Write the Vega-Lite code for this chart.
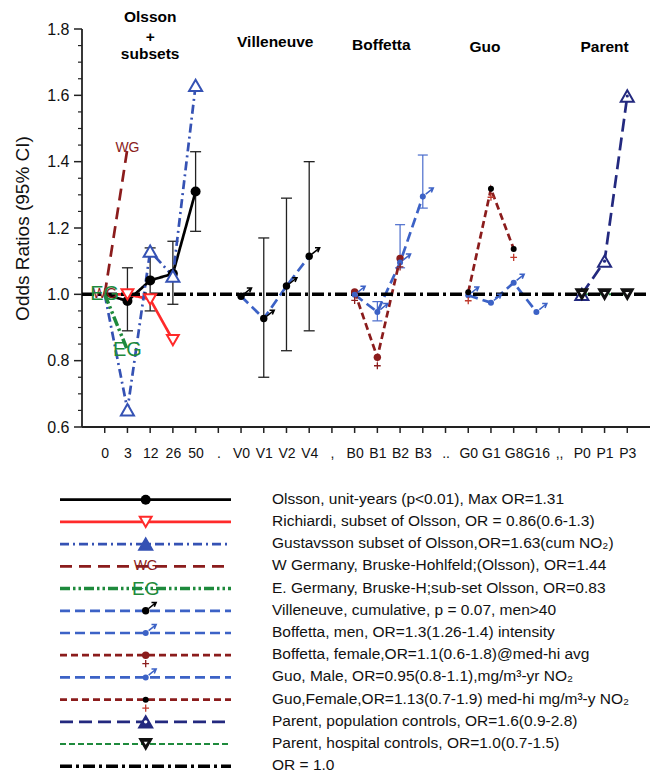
{
  "$schema": "https://vega.github.io/schema/vega-lite/v6.json",
  "padding": {"left": 13, "top": 10, "right": 2, "bottom": 0},
  "bounds": "flush",
  "spacing": 72.7,
  "config": {
    "font": "Liberation Sans",
    "view": {"stroke": null},
    "axis": {"domainColor": "#222222", "domainWidth": 1.8, "tickColor": "#222222", "tickWidth": 1.5, "labelColor": "#111111", "titleColor": "#111111", "grid": false}
  },
  "datasets": {
    "pts": [
      {"s": "Olsson", "x": "0", "y": 1.0}, {"s": "Olsson", "x": "3", "y": 0.98}, {"s": "Olsson", "x": "12", "y": 1.042}, {"s": "Olsson", "x": "26", "y": 1.062}, {"s": "Olsson", "x": "50", "y": 1.31},
      {"s": "Richiardi", "x": "0", "y": 1.0}, {"s": "Richiardi", "x": "3", "y": 1.0}, {"s": "Richiardi", "x": "12", "y": 0.985}, {"s": "Richiardi", "x": "26", "y": 0.862},
      {"s": "Gustavsson", "x": "0", "y": 1.0}, {"s": "Gustavsson", "x": "3", "y": 0.652}, {"s": "Gustavsson", "x": "12", "y": 1.13}, {"s": "Gustavsson", "x": "26", "y": 1.055}, {"s": "Gustavsson", "x": "50", "y": 1.63},
      {"s": "WG", "x": "0", "y": 1.0}, {"s": "WG", "x": "3", "y": 1.44},
      {"s": "EG", "x": "0", "y": 1.0}, {"s": "EG", "x": "3", "y": 0.832},
      {"s": "Villeneuve", "x": "V0", "y": 0.994}, {"s": "Villeneuve", "x": "V1", "y": 0.927}, {"s": "Villeneuve", "x": "V2", "y": 1.025}, {"s": "Villeneuve", "x": "V4", "y": 1.115},
      {"s": "BoffM", "x": "B0", "y": 0.999}, {"s": "BoffM", "x": "B1", "y": 0.947}, {"s": "BoffM", "x": "B2", "y": 1.096}, {"s": "BoffM", "x": "B3", "y": 1.295},
      {"s": "BoffF", "x": "B0", "y": 1.007}, {"s": "BoffF", "x": "B1", "y": 0.81}, {"s": "BoffF", "x": "B2", "y": 1.108},
      {"s": "GuoM", "x": "G0", "y": 0.997}, {"s": "GuoM", "x": "G1", "y": 0.975}, {"s": "GuoM", "x": "G8", "y": 1.035}, {"s": "GuoM", "x": "G16", "y": 0.947},
      {"s": "GuoF", "x": "G0", "y": 1.006}, {"s": "GuoF", "x": "G1", "y": 1.318}, {"s": "GuoF", "x": "G8", "y": 1.137},
      {"s": "ParentPop", "x": "P0", "y": 1.0}, {"s": "ParentPop", "x": "P1", "y": 1.1}, {"s": "ParentPop", "x": "P3", "y": 1.598},
      {"s": "ParentHosp", "x": "P0", "y": 1.0}, {"s": "ParentHosp", "x": "P1", "y": 1.0}, {"s": "ParentHosp", "x": "P3", "y": 1.0}
    ],
    "err": [
      {"s": "Olsson", "x": "3", "lo": 0.89, "hi": 1.08}, {"s": "Olsson", "x": "12", "lo": 0.95, "hi": 1.14}, {"s": "Olsson", "x": "26", "lo": 0.97, "hi": 1.16}, {"s": "Olsson", "x": "50", "lo": 1.19, "hi": 1.43},
      {"s": "Villeneuve", "x": "V1", "lo": 0.75, "hi": 1.17}, {"s": "Villeneuve", "x": "V2", "lo": 0.83, "hi": 1.29}, {"s": "Villeneuve", "x": "V4", "lo": 0.89, "hi": 1.4},
      {"s": "BoffM", "x": "B1", "lo": 0.92, "hi": 0.978}, {"s": "BoffM", "x": "B2", "lo": 1.08, "hi": 1.21}, {"s": "BoffM", "x": "B3", "lo": 1.26, "hi": 1.42}
    ],
    "ttl": [
      {"t": "Olsson", "x": "12", "y": 1.836, "g": "o"}, {"t": "+", "x": "12", "y": 1.776, "g": "o"}, {"t": "subsets", "x": "12", "y": 1.725, "g": "o"},
      {"t": "Villeneuve", "x": "V1", "y": 1.761, "g": "v"},
      {"t": "Boffetta", "x": "B1", "y": 1.753, "g": "b"},
      {"t": "Guo", "x": "G1", "y": 1.747, "g": "g"},
      {"t": "Parent", "x": "P1", "y": 1.747, "g": "o"}
    ],
    "xtk": [
      {"x": "0", "lo": 0.582, "hi": 0.6}, {"x": "3", "lo": 0.582, "hi": 0.6}, {"x": "12", "lo": 0.582, "hi": 0.6}, {"x": "26", "lo": 0.582, "hi": 0.6}, {"x": "50", "lo": 0.582, "hi": 0.6}, {"x": ".", "lo": 0.582, "hi": 0.6},
      {"x": "V0", "lo": 0.582, "hi": 0.6}, {"x": "V1", "lo": 0.582, "hi": 0.6}, {"x": "V2", "lo": 0.582, "hi": 0.6}, {"x": "V4", "lo": 0.582, "hi": 0.6}, {"x": ",", "lo": 0.582, "hi": 0.6}, {"x": "B0", "lo": 0.582, "hi": 0.6},
      {"x": "B1", "lo": 0.582, "hi": 0.6}, {"x": "B2", "lo": 0.582, "hi": 0.6}, {"x": "B3", "lo": 0.582, "hi": 0.6}, {"x": "..", "lo": 0.582, "hi": 0.6}, {"x": "G0", "lo": 0.582, "hi": 0.6}, {"x": "G1", "lo": 0.582, "hi": 0.6},
      {"x": "G8", "lo": 0.582, "hi": 0.6}, {"x": "G16", "lo": 0.582, "hi": 0.6}, {"x": ",,", "lo": 0.582, "hi": 0.6}, {"x": "P0", "lo": 0.582, "hi": 0.6}, {"x": "P1", "lo": 0.582, "hi": 0.6}, {"x": "P3", "lo": 0.582, "hi": 0.6}
    ],
    "yax": [
      {"x": "|<", "lo": 0.6, "hi": 1.8}
    ],
    "xal": [
      {"x": "|<", "y": 0.6}, {"x": ">|", "y": 0.6}
    ],
    "yt": [
      {"v": 0.6}, {"v": 0.65}, {"v": 0.7}, {"v": 0.75}, {"v": 0.8}, {"v": 0.85}, {"v": 0.9}, {"v": 0.95}, {"v": 1.0}, {"v": 1.05}, {"v": 1.1}, {"v": 1.15}, {"v": 1.2},
      {"v": 1.25}, {"v": 1.3}, {"v": 1.35}, {"v": 1.4}, {"v": 1.45}, {"v": 1.5}, {"v": 1.55}, {"v": 1.6}, {"v": 1.65}, {"v": 1.7}, {"v": 1.75}, {"v": 1.8}
    ],
    "orl": [
      {"x": "|<", "y": 1.0}, {"x": ">|", "y": 1.0}
    ],
    "leg": [
      {"s": "Olsson", "label": "Olsson, unit-years (p<0.01), Max OR=1.31"},
      {"s": "Richiardi", "label": "Richiardi, subset of Olsson, OR = 0.86(0.6-1.3)"},
      {"s": "Gustavsson", "label": "Gustavsson subset of Olsson,OR=1.63(cum NO₂)"},
      {"s": "WG", "label": "W Germany, Bruske-Hohlfeld;(Olsson), OR=1.44"},
      {"s": "EG", "label": "E. Germany, Bruske-H;sub-set Olsson, OR=0.83"},
      {"s": "Villeneuve", "label": "Villeneuve, cumulative, p = 0.07, men>40"},
      {"s": "BoffM", "label": "Boffetta, men, OR=1.3(1.26-1.4) intensity"},
      {"s": "BoffF", "label": "Boffetta, female,OR=1.1(0.6-1.8)@med-hi avg"},
      {"s": "GuoM", "label": "Guo, Male, OR=0.95(0.8-1.1),mg/m³-yr NO₂"},
      {"s": "GuoF", "label": "Guo,Female,OR=1.13(0.7-1.9) med-hi mg/m³-y NO₂"},
      {"s": "ParentPop", "label": "Parent, population controls, OR=1.6(0.9-2.8)"},
      {"s": "ParentHosp", "label": "Parent, hospital controls, OR=1.0(0.7-1.5)"},
      {"s": "OR", "label": "OR = 1.0"}
    ]
  },
  "vconcat": [
    {
      "width": 568,
      "height": 398,
      "encoding": {
        "x": {"field": "x", "type": "nominal", "scale": {"type": "point", "domain": ["|<","0","3","12","26","50",".","V0","V1","V2","V4",",","B0","B1","B2","B3","..","G0","G1","G8","G16",",,","P0","P1","P3",">|"], "padding": 0}, "axis": {"title": null, "labelAngle": 0, "tickSize": 6, "labelPadding": 13, "labelFontSize": 14, "labelOverlap": false, "labelFlush": false, "labelExpr": "datum.value === '|<' || datum.value === '>|' ? '' : datum.value", "tickOpacity": 0, "domainOpacity": 0}},
        "y": {"field": "y", "type": "quantitative", "scale": {"domain": [0.6, 1.8], "nice": false, "zero": false}, "title": "Odds Ratios (95% CI)", "axis": {"values": [0.6, 0.8, 1.0, 1.2, 1.4, 1.6, 1.8], "format": ".1f", "tickSize": 8, "labelPadding": 5, "labelFontSize": 16, "titleFontSize": 19, "titleFontWeight": "normal", "titlePadding": 14, "tickOpacity": 0, "domainOpacity": 0}}
      },
      "layer": [
        {"data": {"name": "yt"}, "transform": [{"filter": "abs(datum.v*5 - round(datum.v*5)) < 0.001"}], "mark": {"type": "tick", "color": "#222", "size": 8, "thickness": 1.5, "xOffset": -4, "opacity": 1},
         "encoding": {"x": {"datum": "|<", "type": "nominal", "scale": {"type": "point", "domain": ["|<","0","3","12","26","50",".","V0","V1","V2","V4",",","B0","B1","B2","B3","..","G0","G1","G8","G16",",,","P0","P1","P3",">|"], "padding": 0}, "axis": {"title": null, "labelAngle": 0, "tickSize": 6, "labelPadding": 13, "labelFontSize": 14, "labelOverlap": false, "labelFlush": false, "labelExpr": "datum.value === '|<' || datum.value === '>|' ? '' : datum.value", "tickOpacity": 0, "domainOpacity": 0}},
                      "y": {"field": "v", "type": "quantitative", "scale": {"domain": [0.6, 1.8], "nice": false, "zero": false}, "title": "Odds Ratios (95% CI)", "axis": {"values": [0.6, 0.8, 1.0, 1.2, 1.4, 1.6, 1.8], "format": ".1f", "tickSize": 8, "labelPadding": 5, "labelFontSize": 16, "titleFontSize": 19, "titleFontWeight": "normal", "titlePadding": 14, "tickOpacity": 0, "domainOpacity": 0}}}},
        {"data": {"name": "yt"}, "transform": [{"filter": "abs(datum.v*5 - round(datum.v*5)) >= 0.001"}], "mark": {"type": "tick", "color": "#222", "size": 4, "thickness": 1.2, "xOffset": -2, "opacity": 1},
         "encoding": {"x": {"datum": "|<", "type": "nominal", "scale": {"type": "point", "domain": ["|<","0","3","12","26","50",".","V0","V1","V2","V4",",","B0","B1","B2","B3","..","G0","G1","G8","G16",",,","P0","P1","P3",">|"], "padding": 0}, "axis": {"title": null, "labelAngle": 0, "tickSize": 6, "labelPadding": 13, "labelFontSize": 14, "labelOverlap": false, "labelFlush": false, "labelExpr": "datum.value === '|<' || datum.value === '>|' ? '' : datum.value", "tickOpacity": 0, "domainOpacity": 0}},
                      "y": {"field": "v", "type": "quantitative", "scale": {"domain": [0.6, 1.8], "nice": false, "zero": false}, "title": "Odds Ratios (95% CI)", "axis": {"values": [0.6, 0.8, 1.0, 1.2, 1.4, 1.6, 1.8], "format": ".1f", "tickSize": 8, "labelPadding": 5, "labelFontSize": 16, "titleFontSize": 19, "titleFontWeight": "normal", "titlePadding": 14, "tickOpacity": 0, "domainOpacity": 0}}}},
        {"data": {"name": "xtk"}, "mark": {"type": "rule", "color": "#222", "strokeWidth": 1.5},
         "encoding": {"y": {"field": "lo", "type": "quantitative", "scale": {"domain": [0.6, 1.8], "nice": false, "zero": false}, "title": "Odds Ratios (95% CI)", "axis": {"values": [0.6, 0.8, 1.0, 1.2, 1.4, 1.6, 1.8], "format": ".1f", "tickSize": 8, "labelPadding": 5, "labelFontSize": 16, "titleFontSize": 19, "titleFontWeight": "normal", "titlePadding": 14, "tickOpacity": 0, "domainOpacity": 0}}, "y2": {"field": "hi"}}},
        {"data": {"name": "yax"}, "mark": {"type": "rule", "color": "#222", "strokeWidth": 1.8},
         "encoding": {"y": {"field": "lo", "type": "quantitative", "scale": {"domain": [0.6, 1.8], "nice": false, "zero": false}, "title": "Odds Ratios (95% CI)", "axis": {"values": [0.6, 0.8, 1.0, 1.2, 1.4, 1.6, 1.8], "format": ".1f", "tickSize": 8, "labelPadding": 5, "labelFontSize": 16, "titleFontSize": 19, "titleFontWeight": "normal", "titlePadding": 14, "tickOpacity": 0, "domainOpacity": 0}}, "y2": {"field": "hi"}}},
        {"data": {"name": "xal"}, "mark": {"type": "line", "color": "#222", "strokeWidth": 1.8},
         "encoding": {"order": {"value": null}}},
        {"data": {"name": "err"}, "transform": [{"filter": {"field": "s", "oneOf": ["Olsson", "Villeneuve"]}}], "mark": {"type": "rule", "color": "#222", "strokeWidth": 1.3},
         "encoding": {"y": {"field": "lo", "type": "quantitative", "scale": {"domain": [0.6, 1.8], "nice": false, "zero": false}, "title": "Odds Ratios (95% CI)", "axis": {"values": [0.6, 0.8, 1.0, 1.2, 1.4, 1.6, 1.8], "format": ".1f", "tickSize": 8, "labelPadding": 5, "labelFontSize": 16, "titleFontSize": 19, "titleFontWeight": "normal", "titlePadding": 14, "tickOpacity": 0, "domainOpacity": 0}}, "y2": {"field": "hi"}}},
        {"data": {"name": "err"}, "transform": [{"filter": {"field": "s", "oneOf": ["Olsson", "Villeneuve"]}}, {"fold": ["lo", "hi"], "as": ["end", "v"]}], "mark": {"type": "tick", "color": "#222", "size": 11, "thickness": 1.3, "opacity": 1},
         "encoding": {"y": {"field": "v", "type": "quantitative", "scale": {"domain": [0.6, 1.8], "nice": false, "zero": false}, "title": "Odds Ratios (95% CI)", "axis": {"values": [0.6, 0.8, 1.0, 1.2, 1.4, 1.6, 1.8], "format": ".1f", "tickSize": 8, "labelPadding": 5, "labelFontSize": 16, "titleFontSize": 19, "titleFontWeight": "normal", "titlePadding": 14, "tickOpacity": 0, "domainOpacity": 0}}}},
        {"data": {"name": "err"}, "transform": [{"filter": {"field": "s", "equal": "BoffM"}}], "mark": {"type": "rule", "color": "#4a6ccc", "strokeWidth": 1.2},
         "encoding": {"y": {"field": "lo", "type": "quantitative", "scale": {"domain": [0.6, 1.8], "nice": false, "zero": false}, "title": "Odds Ratios (95% CI)", "axis": {"values": [0.6, 0.8, 1.0, 1.2, 1.4, 1.6, 1.8], "format": ".1f", "tickSize": 8, "labelPadding": 5, "labelFontSize": 16, "titleFontSize": 19, "titleFontWeight": "normal", "titlePadding": 14, "tickOpacity": 0, "domainOpacity": 0}}, "y2": {"field": "hi"}}},
        {"data": {"name": "err"}, "transform": [{"filter": {"field": "s", "equal": "BoffM"}}, {"fold": ["lo", "hi"], "as": ["end", "v"]}], "mark": {"type": "tick", "color": "#4a6ccc", "size": 10, "thickness": 1.2, "opacity": 1},
         "encoding": {"y": {"field": "v", "type": "quantitative", "scale": {"domain": [0.6, 1.8], "nice": false, "zero": false}, "title": "Odds Ratios (95% CI)", "axis": {"values": [0.6, 0.8, 1.0, 1.2, 1.4, 1.6, 1.8], "format": ".1f", "tickSize": 8, "labelPadding": 5, "labelFontSize": 16, "titleFontSize": 19, "titleFontWeight": "normal", "titlePadding": 14, "tickOpacity": 0, "domainOpacity": 0}}}},
        {"data": {"name": "pts"}, "transform": [{"filter": {"not": {"field": "s", "oneOf": ["EG", "ParentHosp"]}}}], "mark": {"type": "line", "strokeWidth": 2.7},
         "encoding": {
           "color": {"field": "s", "type": "nominal", "legend": null, "scale": {"domain": ["Olsson","Richiardi","Gustavsson","WG","EG","Villeneuve","BoffM","BoffF","GuoM","GuoF","ParentPop","ParentHosp"], "range": ["#000000","#ff2a2a","#3552b4","#8b1c1c","#1e8a3c","#3c62c6","#3c62c6","#8b1c1c","#3c62c6","#8b1c1c","#23297f","#1e8a3c"]}},
           "strokeDash": {"field": "s", "type": "nominal", "legend": null, "scale": {"domain": ["Olsson","Richiardi","Gustavsson","WG","EG","Villeneuve","BoffM","BoffF","GuoM","GuoF","ParentPop","ParentHosp"], "range": [[1,0],[1,0],[9,4,2,4],[12,7],[10,3,2.5,3,2.5,3],[10,5],[10,5],[7,4],[10,5],[7,4],[13,6],[6,3]]}},
           "order": {"value": null}
         }},
        {"data": {"name": "pts"}, "transform": [{"filter": {"field": "s", "equal": "EG"}}], "mark": {"type": "line", "strokeWidth": 3.5, "color": "#1e8a3c", "strokeDash": [10, 3, 2.5, 3, 2.5, 3]},
         "encoding": {"order": {"value": null}}},
        {"data": {"name": "pts"}, "transform": [{"filter": {"field": "s", "equal": "ParentHosp"}}], "mark": {"type": "line", "strokeWidth": 2, "color": "#1e8a3c", "strokeDash": [6, 3]},
         "encoding": {"order": {"value": null}}},
        {"data": {"name": "orl"}, "mark": {"type": "line", "color": "#000", "strokeWidth": 3.5, "strokeDash": [12, 4, 3, 4]},
         "encoding": {"order": {"value": null}}},
        {"data": {"name": "pts"}, "transform": [{"filter": "datum.x !== '0' && datum.s === 'Olsson'"}], "mark": {"type": "point", "shape": "circle", "filled": true, "fill": "#000", "size": 100, "strokeWidth": 0, "opacity": 1}},
        {"data": {"name": "pts"}, "transform": [{"filter": "datum.s === 'Villeneuve'"}], "mark": {"type": "point", "shape": "circle", "filled": true, "fill": "#000", "size": 55, "strokeWidth": 0, "opacity": 1}},
        {"data": {"name": "pts"}, "transform": [{"filter": "datum.s === 'BoffF'"}], "mark": {"type": "point", "shape": "circle", "filled": true, "fill": "#8b1c1c", "size": 55, "strokeWidth": 0, "opacity": 1}},
        {"data": {"name": "pts"}, "transform": [{"filter": "datum.s === 'BoffM' || datum.s === 'GuoM'"}], "mark": {"type": "point", "shape": "circle", "filled": true, "fill": "#3c62c6", "size": 36, "strokeWidth": 0, "opacity": 1}},
        {"data": {"name": "pts"}, "transform": [{"filter": "datum.s === 'GuoF'"}], "mark": {"type": "point", "shape": "circle", "filled": true, "fill": "#000", "size": 36, "strokeWidth": 0, "opacity": 1}},
        {"data": {"name": "pts"}, "transform": [{"filter": "datum.s === 'Villeneuve'"}], "mark": {"type": "point", "shape": "M0.28,-0.22L1,-0.8M0.55,-0.8L1,-0.8L0.82,-0.38", "filled": false, "stroke": "#000", "size": 441, "strokeWidth": 1.5, "opacity": 1}},
        {"data": {"name": "pts"}, "transform": [{"filter": "datum.s === 'BoffM' || datum.s === 'GuoM'"}], "mark": {"type": "point", "shape": "M0.28,-0.22L1,-0.8M0.55,-0.8L1,-0.8L0.82,-0.38", "filled": false, "stroke": "#3c62c6", "size": 441, "strokeWidth": 1.5, "opacity": 1}},
        {"data": {"name": "pts"}, "transform": [{"filter": "datum.s === 'BoffF'"}], "mark": {"type": "point", "shape": "M0,0.4L0,1M-0.28,0.7L0.28,0.7", "filled": false, "stroke": "#8b1c1c", "size": 576, "strokeWidth": 1.3, "opacity": 1}},
        {"data": {"name": "pts"}, "transform": [{"filter": "datum.s === 'GuoF'"}], "mark": {"type": "point", "shape": "M0,0.4L0,1M-0.28,0.7L0.28,0.7", "filled": false, "stroke": "#c0392b", "size": 576, "strokeWidth": 1.3, "opacity": 1}},
        {"data": {"name": "pts"}, "transform": [{"filter": "datum.x !== '0' && datum.s === 'Gustavsson'"}], "mark": {"type": "point", "shape": "triangle-up", "filled": true, "fill": "#ffffff", "stroke": "#3552b4", "size": 170, "strokeWidth": 2, "opacity": 1}},
        {"data": {"name": "pts"}, "transform": [{"filter": "datum.s === 'ParentPop'"}], "mark": {"type": "point", "shape": "triangle-up", "filled": true, "fill": "#ffffff", "stroke": "#23297f", "size": 170, "strokeWidth": 2, "opacity": 1}},
        {"data": {"name": "pts"}, "transform": [{"filter": "datum.s === 'ParentPop'"}], "mark": {"type": "point", "shape": "circle", "filled": true, "fill": "#23297f", "size": 10, "strokeWidth": 0, "opacity": 1}},
        {"data": {"name": "pts"}, "transform": [{"filter": "datum.x !== '0' && datum.s === 'Richiardi'"}], "mark": {"type": "point", "shape": "triangle-down", "filled": true, "fill": "#ffffff", "stroke": "#ff2a2a", "size": 140, "strokeWidth": 2, "opacity": 1}},
        {"data": {"name": "pts"}, "transform": [{"filter": "datum.s === 'ParentHosp'"}], "mark": {"type": "point", "shape": "triangle-down", "filled": true, "fill": "#111111", "stroke": "#111111", "size": 150, "strokeWidth": 1.5, "opacity": 1}},
        {"data": {"name": "pts"}, "transform": [{"filter": "datum.s === 'ParentHosp'"}], "mark": {"type": "point", "shape": "M-0.32,-0.38L0.32,-0.38L0,0.12Z", "filled": true, "fill": "#ffffff", "size": 150, "strokeWidth": 0, "opacity": 1}},
        {"data": {"name": "pts"}, "transform": [{"filter": "datum.s === 'WG'"}], "mark": {"type": "text", "text": "WG", "color": "#8b1c1c", "fontSize": 14, "baseline": "middle"}},
        {"data": {"name": "pts"}, "transform": [{"filter": "datum.s === 'EG'"}], "mark": {"type": "text", "text": "EG", "color": "#1e8a3c", "fontSize": 20, "baseline": "middle"}},
        {"data": {"name": "ttl"}, "transform": [{"filter": "datum.g === 'o'"}], "mark": {"type": "text", "fontSize": 15.5, "fontWeight": "bold", "color": "#000", "baseline": "middle"}, "encoding": {"text": {"field": "t"}}},
        {"data": {"name": "ttl"}, "transform": [{"filter": "datum.g === 'v'"}], "mark": {"type": "text", "fontSize": 15.5, "fontWeight": "bold", "color": "#000", "baseline": "middle", "dx": 11.5}, "encoding": {"text": {"field": "t"}}},
        {"data": {"name": "ttl"}, "transform": [{"filter": "datum.g === 'b'"}], "mark": {"type": "text", "fontSize": 15.5, "fontWeight": "bold", "color": "#000", "baseline": "middle", "dx": 4}, "encoding": {"text": {"field": "t"}}},
        {"data": {"name": "ttl"}, "transform": [{"filter": "datum.g === 'g'"}], "mark": {"type": "text", "fontSize": 15.5, "fontWeight": "bold", "color": "#000", "baseline": "middle", "dx": -6}, "encoding": {"text": {"field": "t"}}}
      ]
    },
    {
      "width": 568,
      "height": 266.6,
      "data": {"name": "leg"},
      "encoding": {
        "x": {"datum": 63.7, "type": "quantitative", "scale": {"domain": [0, 568], "nice": false, "zero": false}, "axis": null},
        "y": {"field": "s", "type": "nominal", "scale": {"type": "point", "padding": 0, "domain": ["Olsson","Richiardi","Gustavsson","WG","EG","Villeneuve","BoffM","BoffF","GuoM","GuoF","ParentPop","ParentHosp","OR"]}, "axis": null}
      },
      "layer": [
        {"transform": [{"filter": {"not": {"field": "s", "oneOf": ["EG", "ParentHosp", "OR"]}}}], "mark": {"type": "rule", "strokeWidth": 2.7},
         "encoding": {
           "x": {"datum": -22, "type": "quantitative", "scale": {"domain": [0, 568], "nice": false, "zero": false}, "axis": null}, "x2": {"datum": 149},
           "color": {"field": "s", "type": "nominal", "legend": null, "scale": {"domain": ["Olsson","Richiardi","Gustavsson","WG","EG","Villeneuve","BoffM","BoffF","GuoM","GuoF","ParentPop","ParentHosp"], "range": ["#000000","#ff2a2a","#3552b4","#8b1c1c","#1e8a3c","#3c62c6","#3c62c6","#8b1c1c","#3c62c6","#8b1c1c","#23297f","#1e8a3c"]}},
           "strokeDash": {"field": "s", "type": "nominal", "legend": null, "scale": {"domain": ["Olsson","Richiardi","Gustavsson","WG","EG","Villeneuve","BoffM","BoffF","GuoM","GuoF","ParentPop","ParentHosp"], "range": [[1,0],[1,0],[9,4,2,4],[12,7],[10,3,2.5,3,2.5,3],[10,5],[10,5],[7,4],[10,5],[7,4],[13,6],[6,3]]}}
         }},
        {"transform": [{"filter": {"field": "s", "equal": "EG"}}], "mark": {"type": "rule", "strokeWidth": 3.5, "color": "#1e8a3c", "strokeDash": [10, 3, 2.5, 3, 2.5, 3]},
         "encoding": {"x": {"datum": -22, "type": "quantitative", "scale": {"domain": [0, 568], "nice": false, "zero": false}, "axis": null}, "x2": {"datum": 149}}},
        {"transform": [{"filter": {"field": "s", "equal": "ParentHosp"}}], "mark": {"type": "rule", "strokeWidth": 2, "color": "#1e8a3c", "strokeDash": [6, 3]},
         "encoding": {"x": {"datum": -22, "type": "quantitative", "scale": {"domain": [0, 568], "nice": false, "zero": false}, "axis": null}, "x2": {"datum": 149}}},
        {"transform": [{"filter": {"field": "s", "equal": "OR"}}], "mark": {"type": "rule", "strokeWidth": 3.5, "color": "#000", "strokeDash": [12, 4, 3, 4]},
         "encoding": {"x": {"datum": -22, "type": "quantitative", "scale": {"domain": [0, 568], "nice": false, "zero": false}, "axis": null}, "x2": {"datum": 149}}},
        {"transform": [{"filter": "datum.s === 'Olsson'"}], "mark": {"type": "point", "shape": "circle", "filled": true, "fill": "#000", "size": 100, "strokeWidth": 0, "opacity": 1}},
        {"transform": [{"filter": "datum.s === 'Villeneuve'"}], "mark": {"type": "point", "shape": "circle", "filled": true, "fill": "#000", "size": 55, "strokeWidth": 0, "opacity": 1}},
        {"transform": [{"filter": "datum.s === 'BoffF'"}], "mark": {"type": "point", "shape": "circle", "filled": true, "fill": "#8b1c1c", "size": 55, "strokeWidth": 0, "opacity": 1}},
        {"transform": [{"filter": "datum.s === 'BoffM' || datum.s === 'GuoM'"}], "mark": {"type": "point", "shape": "circle", "filled": true, "fill": "#3c62c6", "size": 36, "strokeWidth": 0, "opacity": 1}},
        {"transform": [{"filter": "datum.s === 'GuoF'"}], "mark": {"type": "point", "shape": "circle", "filled": true, "fill": "#000", "size": 36, "strokeWidth": 0, "opacity": 1}},
        {"transform": [{"filter": "datum.s === 'Villeneuve'"}], "mark": {"type": "point", "shape": "M0.28,-0.22L1,-0.8M0.55,-0.8L1,-0.8L0.82,-0.38", "filled": false, "stroke": "#000", "size": 441, "strokeWidth": 1.5, "opacity": 1}},
        {"transform": [{"filter": "datum.s === 'BoffM' || datum.s === 'GuoM'"}], "mark": {"type": "point", "shape": "M0.28,-0.22L1,-0.8M0.55,-0.8L1,-0.8L0.82,-0.38", "filled": false, "stroke": "#3c62c6", "size": 441, "strokeWidth": 1.5, "opacity": 1}},
        {"transform": [{"filter": "datum.s === 'BoffF'"}], "mark": {"type": "point", "shape": "M0,0.4L0,1M-0.28,0.7L0.28,0.7", "filled": false, "stroke": "#8b1c1c", "size": 576, "strokeWidth": 1.3, "opacity": 1}},
        {"transform": [{"filter": "datum.s === 'GuoF'"}], "mark": {"type": "point", "shape": "M0,0.4L0,1M-0.28,0.7L0.28,0.7", "filled": false, "stroke": "#c0392b", "size": 576, "strokeWidth": 1.3, "opacity": 1}},
        {"transform": [{"filter": "datum.s === 'Gustavsson'"}], "mark": {"type": "point", "shape": "triangle-up", "filled": true, "fill": "#3552b4", "stroke": "#3552b4", "size": 170, "strokeWidth": 2, "opacity": 1}},
        {"transform": [{"filter": "datum.s === 'ParentPop'"}], "mark": {"type": "point", "shape": "triangle-up", "filled": true, "fill": "#23297f", "stroke": "#23297f", "size": 170, "strokeWidth": 2, "opacity": 1}},
        {"transform": [{"filter": "datum.s === 'ParentPop'"}], "mark": {"type": "point", "shape": "circle", "filled": true, "fill": "#ffffff", "size": 12, "strokeWidth": 0, "opacity": 1}},
        {"transform": [{"filter": "datum.s === 'Richiardi'"}], "mark": {"type": "point", "shape": "triangle-down", "filled": true, "fill": "#ffffff", "stroke": "#ff2a2a", "size": 140, "strokeWidth": 2, "opacity": 1}},
        {"transform": [{"filter": "datum.s === 'ParentHosp'"}], "mark": {"type": "point", "shape": "triangle-down", "filled": true, "fill": "#111111", "stroke": "#111111", "size": 150, "strokeWidth": 1.5, "opacity": 1}},
        {"transform": [{"filter": "datum.s === 'ParentHosp'"}], "mark": {"type": "point", "shape": "M-0.32,-0.38L0.32,-0.38L0,0.12Z", "filled": true, "fill": "#ffffff", "size": 150, "strokeWidth": 0, "opacity": 1}},
        {"transform": [{"filter": "datum.s === 'WG'"}], "mark": {"type": "text", "text": "WG", "color": "#8b1c1c", "fontSize": 14, "baseline": "middle"}},
        {"transform": [{"filter": "datum.s === 'EG'"}], "mark": {"type": "text", "text": "EG", "color": "#1e8a3c", "fontSize": 19, "baseline": "middle"}},
        {"mark": {"type": "text", "align": "left", "baseline": "middle", "fontSize": 15.5, "color": "#111", "dy": -1},
         "encoding": {"x": {"datum": 190, "type": "quantitative", "scale": {"domain": [0, 568], "nice": false, "zero": false}, "axis": null}, "text": {"field": "label"}}}
      ]
    }
  ]
}
